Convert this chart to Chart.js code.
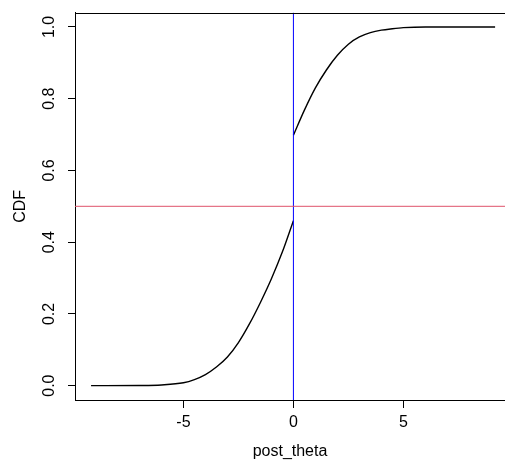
<!DOCTYPE html>
<html>
<head>
<meta charset="utf-8">
<script src="https://cdn.jsdelivr.net/npm/chart.js@4"></script>
<style>
  body { margin: 0; background: #fff; }
</style>
</head>
<body>
<canvas id="cdfChart" width="505" height="469"></canvas>
<script>
// posterior CDF of post_theta (jump at 0)
const leftX  = [-9.2, -7, -6, -5, -4.5, -4, -3.5, -3, -2.5, -2, -1.5, -1, -0.5, 0];
const leftY  = [0, 0.0005, 0.002, 0.008, 0.017, 0.031, 0.052, 0.08, 0.12, 0.172, 0.232, 0.298, 0.373, 0.46];
const rightX = [0, 0.5, 1, 1.5, 2, 2.5, 3, 3.5, 4, 4.5, 5, 6, 7, 9.17];
const rightY = [0.698, 0.768, 0.83, 0.88, 0.921, 0.952, 0.972, 0.984, 0.991, 0.995, 0.998, 1, 1, 1];

const xTicks = [-5, 0, 5];
const yTicks = [0, 0.2, 0.4, 0.6, 0.8, 1.0];
const xMin = -9.93, xMax = 9.62;
const yMin = -0.04, yMax = 1.04;
const refY = 0.5;   // red horizontal line
const refX = 0;     // blue vertical line

const FONT = 'Liberation Sans, Arial, Helvetica, sans-serif';

function toPoints(xs, ys) {
    return xs.map((x, i) => ({ x: x, y: ys[i] }));
}

const boxAndLabels = {
    id: 'boxAndLabels',
    afterDraw(chart) {
        const ctx = chart.ctx;
        const area = chart.chartArea;
        const yScale = chart.scales.y;
        ctx.save();
        // top border of the R style box
        ctx.strokeStyle = '#000';
        ctx.lineWidth = 1;
        ctx.beginPath();
        ctx.moveTo(area.left, Math.round(area.top) + 0.5);
        ctx.lineTo(area.right, Math.round(area.top) + 0.5);
        ctx.stroke();
        // rotated y tick labels
        ctx.fillStyle = '#000';
        ctx.font = '16px ' + FONT;
        ctx.textAlign = 'center';
        ctx.textBaseline = 'middle';
        yTicks.forEach(v => {
            const py = yScale.getPixelForValue(v);
            ctx.save();
            ctx.translate(50, py);
            ctx.rotate(-Math.PI / 2);
            ctx.fillText(v.toFixed(1), 0, 0);
            ctx.restore();
        });
        ctx.restore();
    }
};

new Chart(document.getElementById('cdfChart'), {
    type: 'scatter',
    data: {
        datasets: [
            {
                data: toPoints([xMin, xMax], [refY, refY]),
                showLine: true,
                borderColor: '#DF536B',
                borderWidth: 1,
                pointRadius: 0
            },
            {
                data: toPoints([refX, refX], [yMin, yMax]),
                showLine: true,
                borderColor: '#0000FF',
                borderWidth: 1,
                pointRadius: 0
            },
            {
                data: toPoints(leftX, leftY),
                showLine: true,
                borderColor: '#000',
                borderWidth: 1.4,
                pointRadius: 0,
                cubicInterpolationMode: 'monotone'
            },
            {
                data: toPoints(rightX, rightY),
                showLine: true,
                borderColor: '#000',
                borderWidth: 1.4,
                pointRadius: 0,
                cubicInterpolationMode: 'monotone'
            }
        ]
    },
    options: {
        responsive: false,
        animation: false,
        layout: { padding: { top: 10, right: 0, left: 0, bottom: 0 } },
        plugins: {
            legend: { display: false },
            tooltip: { enabled: false }
        },
        scales: {
            x: {
                type: 'linear',
                min: xMin,
                max: xMax,
                afterBuildTicks: s => { s.ticks = xTicks.map(v => ({ value: v })); },
                afterFit: s => { s.height = 69; },
                grid: { drawOnChartArea: false, tickLength: 8, color: '#000' },
                border: { color: '#000', width: 1 },
                ticks: {
                    color: '#000',
                    padding: 5,
                    maxRotation: 0,
                    font: { size: 16, family: FONT },
                    callback: v => String(v)
                },
                title: {
                    display: true,
                    text: 'post_theta',
                    color: '#000',
                    font: { size: 16, family: FONT },
                    padding: { top: 0, bottom: 8 }
                }
            },
            y: {
                type: 'linear',
                min: yMin,
                max: yMax,
                afterBuildTicks: s => { s.ticks = yTicks.map(v => ({ value: v })); },
                afterFit: s => { s.width = 75; },
                grid: { drawOnChartArea: false, tickLength: 7, color: '#000' },
                border: { color: '#000', width: 1 },
                ticks: {
                    color: 'rgba(0,0,0,0)',
                    font: { size: 16, family: FONT }
                },
                title: {
                    display: true,
                    text: 'CDF',
                    color: '#000',
                    font: { size: 16, family: FONT },
                    padding: { top: 11, bottom: 0 }
                }
            }
        }
    },
    plugins: [boxAndLabels]
});
</script>
</body>
</html>
